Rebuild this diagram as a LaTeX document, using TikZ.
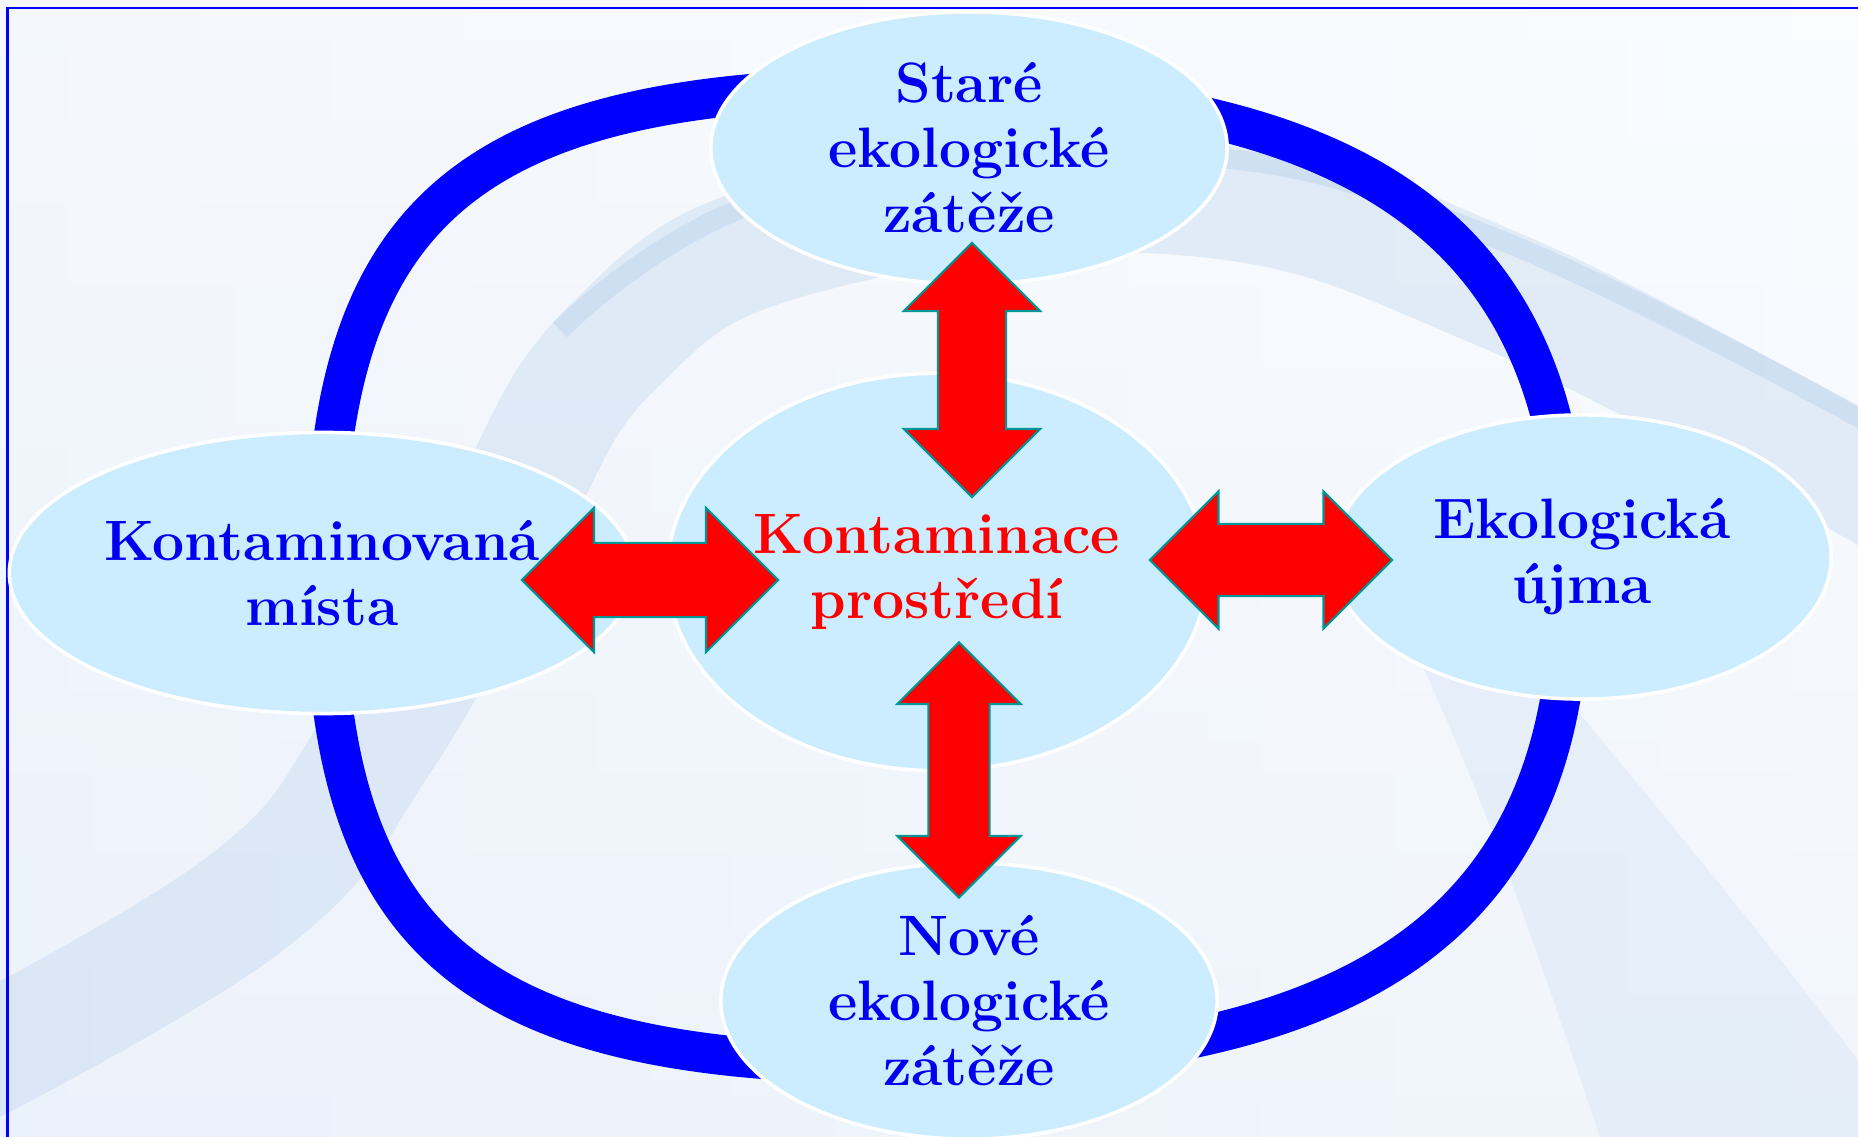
\documentclass[tikz,border=0pt]{standalone}
\usetikzlibrary{shapes.geometric, shapes.arrows}
\definecolor{ringblue}{RGB}{0,0,255}
\definecolor{txtblue}{RGB}{0,0,240}
\definecolor{bubblefill}{RGB}{204,236,255}
\definecolor{bgpale}{RGB}{236,242,251}
\definecolor{bgwhite}{RGB}{250,252,255}
\definecolor{swoosh}{RGB}{186,210,236}
\definecolor{arredge}{RGB}{0,150,150}

\tikzset{
  bubble/.style={ellipse, draw=white, line width=1pt, fill=bubblefill, inner sep=0pt,
    align=center, text=txtblue, font=\fontsize{16.2}{18.5}\selectfont\bfseries},
  dblarr/.style={double arrow, draw=arredge, fill=red, line width=0.6pt, inner xsep=0pt,
    double arrow tip angle=90},
  band/.style={swoosh, line cap=butt}
}

\begin{document}
\begin{tikzpicture}[x=0.01cm, y=-0.01cm]
  \useasboundingbox (0,0) rectangle (1858,1137);
  % background
  \shade[left color=bgpale, right color=bgwhite] (0,0) rectangle (1858,1137);
  \shade[top color=bgwhite, bottom color=bgpale, opacity=0.6] (0,0) rectangle (1858,1137);
  \draw[band, line width=1.2cm, opacity=0.35] plot[smooth, tension=0.7] coordinates {(1900,500) (1500,290) (1180,195) (800,235) (610,350) (500,530) (380,740) (250,900) (-40,1070)};
  \draw[band, line width=0.2cm, opacity=0.45] plot[smooth, tension=0.7] coordinates {(1900,440) (1500,240) (1180,155) (780,195) (560,330)};
  \fill[swoosh, opacity=0.22] (1400,620) .. controls (1480,780) and (1540,960) .. (1600,1137) -- (1858,1137) -- (1858,1060) .. controls (1720,880) and (1600,740) .. (1520,640) -- cycle;
  \draw[ringblue, line width=0.6pt] (1858,8) -- (7.5,8) -- (7.5,1137);

  % ring behind the bubbles
  \draw[ringblue, line width=0.4cm] (325,575)
    .. controls (325,210) and (469,88) .. (900,88)
    .. controls (1369,88) and (1570,236) .. (1570,580)
    .. controls (1570,919) and (1369,1064) .. (900,1064)
    .. controls (469,1064) and (325,942) .. (325,575) -- cycle;

  % bubbles
  \node[bubble, minimum width=5.16cm, minimum height=2.72cm] (stare) at (969,148) {Staré\\ekologické\\zátěže};
  \node[bubble, minimum width=5.39cm, minimum height=3.97cm, text=red] (kontam) at (937,572) {Kontaminace\\prostředí};
  \node[bubble, minimum width=6.25cm, minimum height=2.81cm] (mista) at (322,573) {Kontaminovaná\\místa};
  \node[bubble, minimum width=4.98cm, minimum height=2.84cm] (ujma) at (1582,557) {Ekologická\\újma};
  \node[bubble, minimum width=4.96cm, minimum height=2.76cm] (nove) at (969,1001) {Nové\\ekologické\\zátěže};

  % double arrows
  \node[dblarr, rotate=90, minimum height=2.54cm, inner ysep=0.33cm, double arrow head extend=0.34cm] (arrN) at (972,370) {};
  \node[dblarr, rotate=90, minimum height=2.55cm, inner ysep=0.295cm, double arrow head extend=0.31cm] (arrS) at (959,770) {};
  \node[dblarr, minimum height=2.56cm, inner ysep=0.36cm, double arrow head extend=0.35cm] (arrW) at (650,580) {};
  \node[dblarr, minimum height=2.42cm, inner ysep=0.35cm, double arrow head extend=0.325cm] (arrE) at (1271,560) {};
\end{tikzpicture}
\end{document}
